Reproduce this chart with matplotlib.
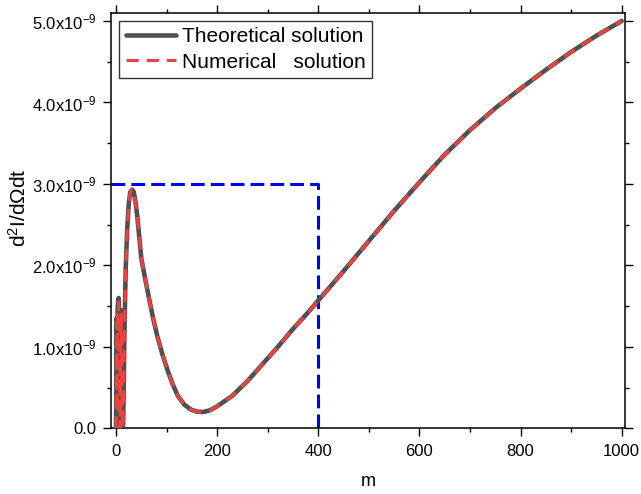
import numpy as np
import matplotlib
matplotlib.use("Agg")
import matplotlib.pyplot as plt
from matplotlib.ticker import MultipleLocator, FixedLocator, FuncFormatter

plt.rcParams['font.family'] = ['Liberation Sans', 'DejaVu Sans']
plt.rcParams['mathtext.fontset'] = 'custom'
plt.rcParams['mathtext.rm'] = 'Liberation Sans'
plt.rcParams['mathtext.it'] = 'Liberation Sans:italic'

# data (y values in units of 1e-9)
m = [0, 1, 2, 3, 4, 5, 6, 7, 8, 9, 10, 11, 12, 13, 14, 15, 16, 17, 19, 22,
     25, 28, 32, 35, 38, 42, 46, 50, 58, 66, 74, 82, 92, 102, 112, 122, 135,
     148, 160, 172, 185, 200, 230, 260, 290, 320, 350, 375, 400, 450, 500,
     550, 600, 650, 700, 750, 800, 850, 900, 950, 1000]
theory = [0.0, 1.35, 0.4, 1.45, 1.55, 1.6, 1.2, 0.3, 0.05, 0.9, 1.45, 1.2,
          0.4, 0.0, 0.05, 0.45, 0.95, 1.35, 1.95, 2.45, 2.75, 2.9, 2.93, 2.9,
          2.8, 2.6, 2.34, 2.08, 1.82, 1.57, 1.33, 1.12, 0.9, 0.71, 0.54, 0.4,
          0.29, 0.23, 0.205, 0.2, 0.22, 0.27, 0.4, 0.58, 0.79, 1.0, 1.22, 1.39,
          1.57, 1.93, 2.3, 2.67, 3.02, 3.36, 3.66, 3.93, 4.17, 4.4, 4.62, 4.82,
          5.0]
numerical = [0.0, 1.3, 0.2, 1.4, 1.5, 1.55, 1.1, 0.2, 0.0, 0.8, 1.4, 1.15,
             0.3, 0.0, 0.05, 0.45, 0.95, 1.35, 1.95, 2.45, 2.75, 2.9, 2.93, 2.9,
             2.8, 2.6, 2.34, 2.08, 1.82, 1.57, 1.33, 1.12, 0.9, 0.71, 0.54, 0.4,
             0.29, 0.23, 0.205, 0.2, 0.22, 0.27, 0.4, 0.58, 0.79, 1.0, 1.22, 1.39,
             1.57, 1.93, 2.3, 2.67, 3.02, 3.36, 3.66, 3.93, 4.17, 4.4, 4.62, 4.82,
             5.0]
guide_m = [-10, 400, 400]
guide_v = [3.0, 3.0, 0.0]
xticks = [0, 200, 400, 600, 800, 1000]
yticks = [0, 1, 2, 3, 4, 5]

scale = 1e-9
fig = plt.figure(figsize=(6.41, 4.94), dpi=100)
ax = fig.add_axes([0.1732, 0.133, 0.8018, 0.841])

ax.plot(m, np.array(theory) * scale, color='#505050', lw=3.3,
        solid_capstyle='round', label='Theoretical solution', zorder=3)
ax.plot(m, np.array(numerical) * scale, color='#f04040', lw=2.2,
        dashes=(4.0, 2.6), label='Numerical   solution', zorder=4)
ax.plot(guide_m, np.array(guide_v) * scale, color='#0000ff', lw=2.2,
        dashes=(4.5, 2.0), zorder=2)

ax.set_xlim(-10, 1006.5)
ax.set_ylim(0, 5.1e-9)
ax.xaxis.set_major_locator(FixedLocator(xticks))
ax.xaxis.set_minor_locator(FixedLocator([100, 300, 500, 700, 900]))
ax.yaxis.set_major_locator(FixedLocator([v * scale for v in yticks]))
ax.yaxis.set_minor_locator(FixedLocator([(v + 0.5) * scale for v in yticks[:-1]]))


def fmt(v, pos):
    if abs(v) < 1e-15:
        return '0.0'
    return f'{v / scale:.1f}x10$^{{-9}}$'


ax.yaxis.set_major_formatter(FuncFormatter(fmt))
ax.tick_params(which='both', direction='out', top=True, right=True,
               width=1.0, labelsize=12)
ax.tick_params(which='major', length=5.5, pad=5)
ax.tick_params(which='minor', length=3)
ax.tick_params(axis='x', which='major', pad=6)
for s in ax.spines.values():
    s.set_linewidth(1.1)

ax.set_xlabel('m', fontsize=13, labelpad=10)
ax.set_ylabel('d$^2$I/dΩdt', fontsize=15)
ax.yaxis.set_label_coords(-0.158, 0.53)

leg = ax.legend(loc='upper left', fontsize=15, frameon=True, fancybox=False,
                edgecolor='black', handlelength=2.4, handletextpad=0.3,
                labelspacing=0.3, borderpad=0.3, borderaxespad=0.4)
leg.get_frame().set_linewidth(1.0)

fig.savefig('out.png', dpi=100)
